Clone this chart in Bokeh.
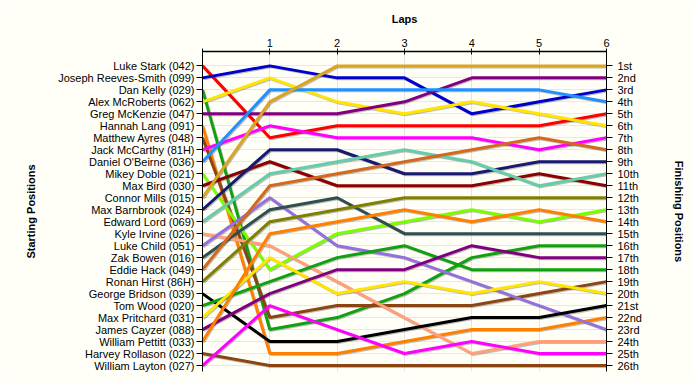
from bokeh.plotting import figure
from bokeh.models import Range1d, LinearAxis, FixedTicker, ColumnDataSource
from bokeh.embed import file_html
from bokeh.resources import INLINE

# ---------------- data ----------------
drivers = ["Luke Stark (042)", "Joseph Reeves-Smith (099)", "Dan Kelly (029)",
           "Alex McRoberts (062)", "Greg McKenzie (047)", "Hannah Lang (091)",
           "Matthew Ayres (048)", "Jack McCarthy (81H)", "Daniel O'Beirne (036)",
           "Mikey Doble (021)", "Max Bird (030)", "Connor Mills (015)",
           "Max Barnbrook (024)", "Edward Lord (069)", "Kyle Irvine (026)",
           "Luke Child (051)", "Zak Bowen (016)", "Eddie Hack (049)",
           "Ronan Hirst (86H)", "George Bridson (039)", "Tom Wood (020)",
           "Max Pritchard (031)", "James Cayzer (088)", "William Pettitt (033)",
           "Harvey Rollason (022)", "William Layton (027)"]

laps = [0, 1, 2, 3, 4, 5, 6]

# position of each driver (in driver order) after each lap
lap0_pos = [1, 2, 3, 4, 5, 6, 7, 8, 9, 10, 11, 12, 13, 14, 15, 16, 17, 18, 19, 20, 21, 22, 23, 24, 25, 26]
lap1_pos = [7, 1, 23, 2, 5, 25, 22, 6, 3, 18, 9, 4, 8, 10, 16, 12, 13, 11, 14, 24, 19, 17, 20, 15, 26, 21]
lap2_pos = [6, 2, 22, 4, 5, 25, 21, 7, 3, 15, 11, 1, 8, 9, 19, 16, 12, 10, 13, 24, 17, 20, 18, 14, 26, 23]
lap3_pos = [6, 2, 20, 5, 4, 24, 21, 7, 3, 14, 11, 1, 10, 8, 22, 17, 15, 9, 12, 23, 16, 19, 18, 13, 26, 25]
lap4_pos = [6, 5, 17, 4, 2, 23, 21, 7, 3, 13, 11, 1, 10, 9, 25, 19, 15, 8, 12, 22, 18, 20, 16, 14, 26, 24]
lap5_pos = [6, 4, 16, 5, 2, 23, 20, 8, 3, 14, 10, 1, 9, 11, 24, 21, 15, 7, 12, 22, 18, 19, 17, 13, 26, 25]
lap6_pos = [5, 3, 16, 6, 2, 22, 19, 7, 4, 13, 11, 1, 9, 10, 24, 23, 15, 8, 12, 21, 18, 20, 17, 14, 26, 25]

finish_labels = ["1st", "2nd", "3rd", "4th", "5th", "6th", "7th", "8th", "9th", "10th",
                 "11th", "12th", "13th", "14th", "15th", "16th", "17th", "18th", "19th",
                 "20th", "21st", "22nd", "23rd", "24th", "25th", "26th"]

colors = ["#FF0000", "#0000CD", "#10A010", "#FFE500", "#800080", "#FF8000", "#8B4513",
          "#FF00FF", "#1E90FF", "#7CFC00", "#8B0000", "#DAA520", "#191970", "#66CDAA",
          "#FFA07A", "#9370DB", "#2F4F4F", "#D2691E", "#808000", "#000000", "#10A010",
          "#FFE500", "#800080", "#FF8000", "#8B4513", "#FF00FF"]

# ---------------- figure ----------------
BG = "#FFFFF7"
FONT = "Liberation Sans"

p = figure(width=692, height=382, output_backend="svg", toolbar_location=None,
           x_range=Range1d(0, 6), y_range=Range1d(26.5, -0.2),
           x_axis_location="above", y_axis_location="left",
           min_border_left=202, min_border_right=86, min_border_top=51, min_border_bottom=11)
p.background_fill_color = BG
p.border_fill_color = BG
p.outline_line_color = None

all_pos = [lap0_pos, lap1_pos, lap2_pos, lap3_pos, lap4_pos, lap5_pos, lap6_pos]
n = len(drivers)
dx = 6 / 404.0
dy = 1 / 12.0
for i in range(n):
    ys = [lp[i] for lp in all_pos]
    src = ColumnDataSource(dict(xs=[x + dx for x in laps], ys=[y + dy for y in ys]))
    p.line("xs", "ys", source=src, line_color="#000000", line_alpha=0.25, line_width=3)
for i in range(n):
    ys = [lp[i] for lp in all_pos]
    src = ColumnDataSource(dict(x=laps, y=ys))
    p.line("x", "y", source=src, line_color=colors[i], line_width=3)

# top axis (laps)
xax = p.xaxis[0]
xax.ticker = FixedTicker(ticks=laps)
xax.major_label_overrides = {0: ""}
xax.axis_label = "Laps"
xax.axis_label_text_font = FONT
xax.axis_label_text_font_style = "bold"
xax.axis_label_text_font_size = "11px"
xax.axis_label_text_color = "#000000"
xax.axis_label_standoff = 11
xax.major_label_text_font = FONT
xax.major_label_text_font_size = "11px"
xax.major_label_text_color = "#000000"
xax.major_label_standoff = 2
xax.major_tick_in = 3
xax.major_tick_out = 3
xax.minor_tick_line_color = None
xax.axis_line_color = "#000000"
xax.major_tick_line_color = "#000000"
xax.axis_line_width = 1.5

pos_ticks = list(range(1, n + 1))

# left axis (starting positions)
yax = p.yaxis[0]
yax.ticker = FixedTicker(ticks=pos_ticks)
yax.major_label_overrides = {k + 1: drivers[k] for k in range(n)}
yax.axis_label = "Starting Positions"
yax.axis_label_text_font = FONT
yax.axis_label_text_font_style = "bold"
yax.axis_label_text_font_size = "11px"
yax.axis_label_text_color = "#000000"
yax.axis_label_standoff = 18
yax.major_label_text_font = FONT
yax.major_label_text_font_size = "11px"
yax.major_label_text_color = "#000000"
yax.major_label_standoff = 2
yax.major_tick_in = 0
yax.major_tick_out = 6
yax.minor_tick_line_color = None
yax.axis_line_color = "#000000"
yax.major_tick_line_color = "#000000"

# right axis (finishing positions)
rax = LinearAxis(ticker=FixedTicker(ticks=pos_ticks),
                 major_label_overrides={k + 1: finish_labels[k] for k in range(n)})
rax.axis_label = "Finishing Positions"
rax.axis_label_text_font = FONT
rax.axis_label_text_font_style = "bold"
rax.axis_label_text_font_size = "11px"
rax.axis_label_text_color = "#000000"
rax.axis_label_standoff = 28
rax.major_label_text_font = FONT
rax.major_label_text_font_size = "11px"
rax.major_label_text_color = "#000000"
rax.major_label_standoff = 5
rax.major_tick_in = 0
rax.major_tick_out = 6
rax.minor_tick_line_color = None
rax.axis_line_color = "#000000"
rax.major_tick_line_color = "#000000"
p.add_layout(rax, "right")

# grids
p.xgrid.ticker = FixedTicker(ticks=laps)
p.xgrid.grid_line_color = "#E4E4E4"
p.ygrid.ticker = FixedTicker(ticks=pos_ticks)
p.ygrid.grid_line_color = "#E8E8E8"

html = file_html(p, INLINE)
html = html.replace("<body>", '<body style="background-color:%s;">' % BG, 1)
open("out.html", "w").write(html)
